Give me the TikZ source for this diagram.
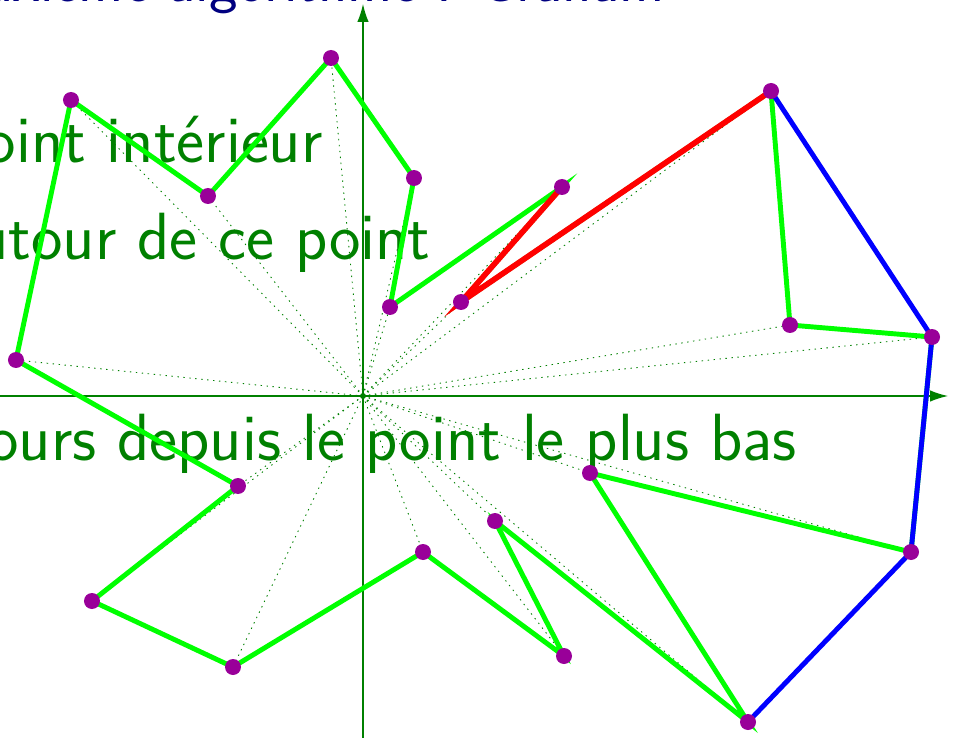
\documentclass[tikz,border=0pt]{standalone}
\usepackage{tikz}
\usepackage{xcolor}
\usetikzlibrary{arrows.meta}
\definecolor{pointviolet}{RGB}{153,0,153}
\definecolor{textgreen}{RGB}{0,128,0}
\definecolor{titleblue}{RGB}{0,0,128}
\tikzset{
    pt/.style={circle, fill=pointviolet, inner sep=0pt, minimum size=0.32cm},
    ray/.style={textgreen, line width=0.5pt, dash pattern=on 0.8pt off 2.6pt},
    axis/.style={textgreen, line width=0.8pt, -{Latex[length=3.6mm,width=2.3mm]}},
    poly/.style={green, line width=2.8pt},
    hull/.style={blue, line width=2.8pt},
    test/.style={red, line width=3.2pt},
    big/.style={font=\sffamily\fontsize{38}{40}\selectfont, textgreen, inner sep=0pt, anchor=base east}
}

\begin{document}
\begin{tikzpicture}[x=0.02cm, y=0.02cm]
\useasboundingbox (-363,-341) rectangle (590,396);
\clip (-363,-341) rectangle (590,396);
% texts of the slide
\node[big, titleblue, font=\sffamily\fontsize{34.5}{36}\selectfont] (title) at (302,394) {Deuxième algorithme : Graham};
\node[big] (step1) at (-40,233) {point intérieur};
\node[big] (step2) at (68,136) {autour de ce point};
\node[big] (step3) at (434,-64) {Parcours depuis le point le plus bas};
% axes
\coordinate (xstart) at (-380,0);
\coordinate (xend) at (585,0);
\coordinate (ystart) at (0,-360);
\coordinate (yend) at (0,392);
\draw[axis] (xstart) -- (xend);
\draw[axis] (ystart) -- (yend);
% points, sorted by angle around Z
\node[circle, fill=textgreen, inner sep=0pt, minimum size=1.2mm] (Z) at (0,0) {};
\coordinate (A) at (385,-326);
\coordinate (B) at (227,-77);
\coordinate (C) at (548,-156);
\coordinate (D) at (569,59);
\coordinate (E) at (427,71);
\coordinate (F) at (408,305);
\coordinate (G) at (98,94);
\coordinate (H) at (199,209);
\coordinate (I) at (27,89);
\coordinate (J) at (51,218);
\coordinate (K) at (-32,338);
\coordinate (L) at (-155,200);
\coordinate (M) at (-292,296);
\coordinate (N) at (-347,36);
\coordinate (O) at (-125,-90);
\coordinate (P) at (-271,-205);
\coordinate (Q) at (-130,-271);
\coordinate (R) at (60,-156);
\coordinate (S) at (201,-260);
\coordinate (T) at (132,-125);
\foreach \p in {A,...,T} \draw[ray] (Z.center) -- (\p);
% star polygon
\draw[poly] (A) -- (B) -- (C) -- (D) -- (E) -- (F) -- (G) -- (H) -- (I) -- (J)
  -- (K) -- (L) -- (M) -- (N) -- (O) -- (P) -- (Q) -- (R) -- (S) -- (T) -- cycle;
% hull so far and the turn being tested
\draw[hull] (A) -- (C) -- (D) -- (F);
\draw[test] (F) -- (G) -- (H);
\foreach \p in {A,...,T} \node[pt] (dot\p) at (\p) {};
\end{tikzpicture}
\end{document}
